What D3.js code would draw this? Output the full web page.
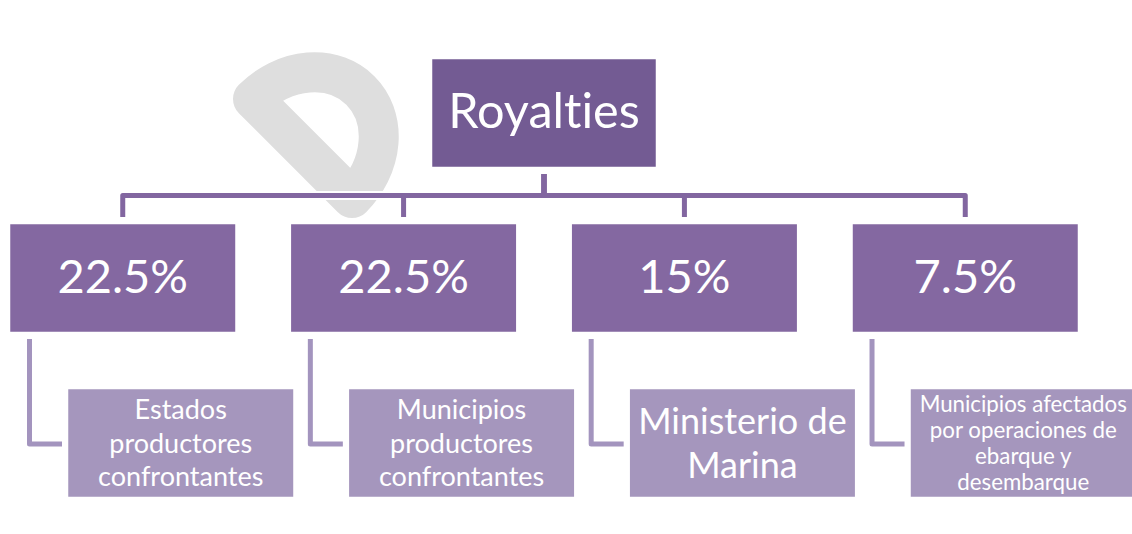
<!DOCTYPE html>
<html><head><meta charset="utf-8">
<script src="https://cdn.jsdelivr.net/npm/d3@7"></script>
<style>html,body{margin:0;padding:0;background:#fff;overflow:hidden}
text{font-variant-ligatures:none;font-feature-settings:"liga" 0}</style>
</head><body>
<svg id="c" width="1132" height="534"></svg>
<script>
// ---- data ----
const rootLabel = "Royalties";
const shares = ["22.5%", "22.5%", "15%", "7.5%"];
const recipients = [
  ["Estados", "productores", "confrontantes"],
  ["Municipios", "productores", "confrontantes"],
  ["Ministerio de", "Marina"],
  ["Municipios afectados", "por operaciones de", "ebarque y", "desembarque"]
];

// ---- style ----
const recipientFont = [ {size: 27, lh: 33.7}, {size: 27, lh: 33.7}, {size: 36, lh: 44.4}, {size: 22.3, lh: 26.2} ];
const col = {root: "#735b93", lvl1: "#8468a1", lvl2: "#a596bd", conn1: "#8266a0", conn2: "#a394be", wm: "#dedede"};
const FONT = "Lato, 'Open Sans', sans-serif";
const CAP = 0.7165;

const svg = d3.select("#c");

// watermark: a light grey rotated "D" glyph outline behind the diagram
const wmH = 140, wmRx = 82, wmRy = wmH / 2;
svg.append("path")
  .attr("transform", "translate(352,198) rotate(-45)")
  .attr("d", `M0,0V${-wmH}A${wmRx},${wmRy} 0 0 1 0,0Z`)
  .attr("fill", "none")
  .attr("stroke", col.wm)
  .attr("stroke-width", 40)
  .attr("stroke-linejoin", "round");

const idx = d3.range(shares.length);
const x = d3.scaleBand().domain(idx).range([9, 1079]).paddingInner(0.19).paddingOuter(0);
const y = d3.scaleLinear().domain([0, 2]).range([58, 388]);
const bw = x.bandwidth(), bh = 110;
const childOff = 58, gap = 6;
const rootCx = (x(0) + x(idx.length - 1) + bw) / 2;
const rootW = 226;

// connectors
const midY = (y(0) + bh + y(1)) / 2;
const conn1 = idx.map(i => {
  const cx = x(i) + bw / 2;
  return `M${rootCx},${y(0) + bh + gap}V${midY}H${cx}V${y(1) - gap}`;
});
const conn2 = idx.map(i => {
  const lx = x(i) + 20.5;
  const cy = y(2) + bh / 2 + 1;
  return `M${lx},${y(1) + bh + gap}V${cy}H${x(i) + childOff - 5}`;
});
const cg = svg.append("g").attr("fill", "none").attr("stroke-linejoin", "round");
[[conn1, col.conn1], [conn2, col.conn2]].forEach(([ps, c]) => {
  cg.selectAll(null).data(ps).join("path").attr("d", d => d).attr("stroke", "#fff").attr("stroke-width", 9);
  cg.selectAll(null).data(ps).join("path").attr("d", d => d).attr("stroke", c).attr("stroke-width", 5);
});

function box(g, bx, by, w, h, fill) {
  g.append("rect").attr("x", bx).attr("y", by).attr("width", w).attr("height", h)
    .attr("fill", fill).attr("stroke", "#fff").attr("stroke-width", 2.5);
}
function label(g, cx, cy, lines, size, lh) {
  const t = g.append("text").attr("text-anchor", "middle").attr("fill", "#fff")
    .attr("font-family", FONT).attr("font-size", size);
  const first = cy - (lines.length - 1) * lh / 2 + CAP * size / 2;
  lines.forEach((s, k) => t.append("tspan").attr("x", cx).attr("y", first + k * lh).text(s));
}

// root
const g0 = svg.append("g");
box(g0, rootCx - rootW / 2, y(0), rootW, bh, col.root);
label(g0, rootCx, y(0) + bh / 2 - 2, [rootLabel], 48.6, 0);

// level 1
const g1 = svg.append("g");
idx.forEach(i => {
  box(g1, x(i), y(1), bw, bh, col.lvl1);
  label(g1, x(i) + bw / 2, y(1) + bh / 2 - 2, [shares[i]], 47, 0);
});

// level 2
const g2 = svg.append("g");
idx.forEach(i => {
  box(g2, x(i) + childOff, y(2), bw, bh, col.lvl2);
  label(g2, x(i) + childOff + bw / 2, y(2) + bh / 2, recipients[i], recipientFont[i].size, recipientFont[i].lh);
});
</script>
</body></html>
